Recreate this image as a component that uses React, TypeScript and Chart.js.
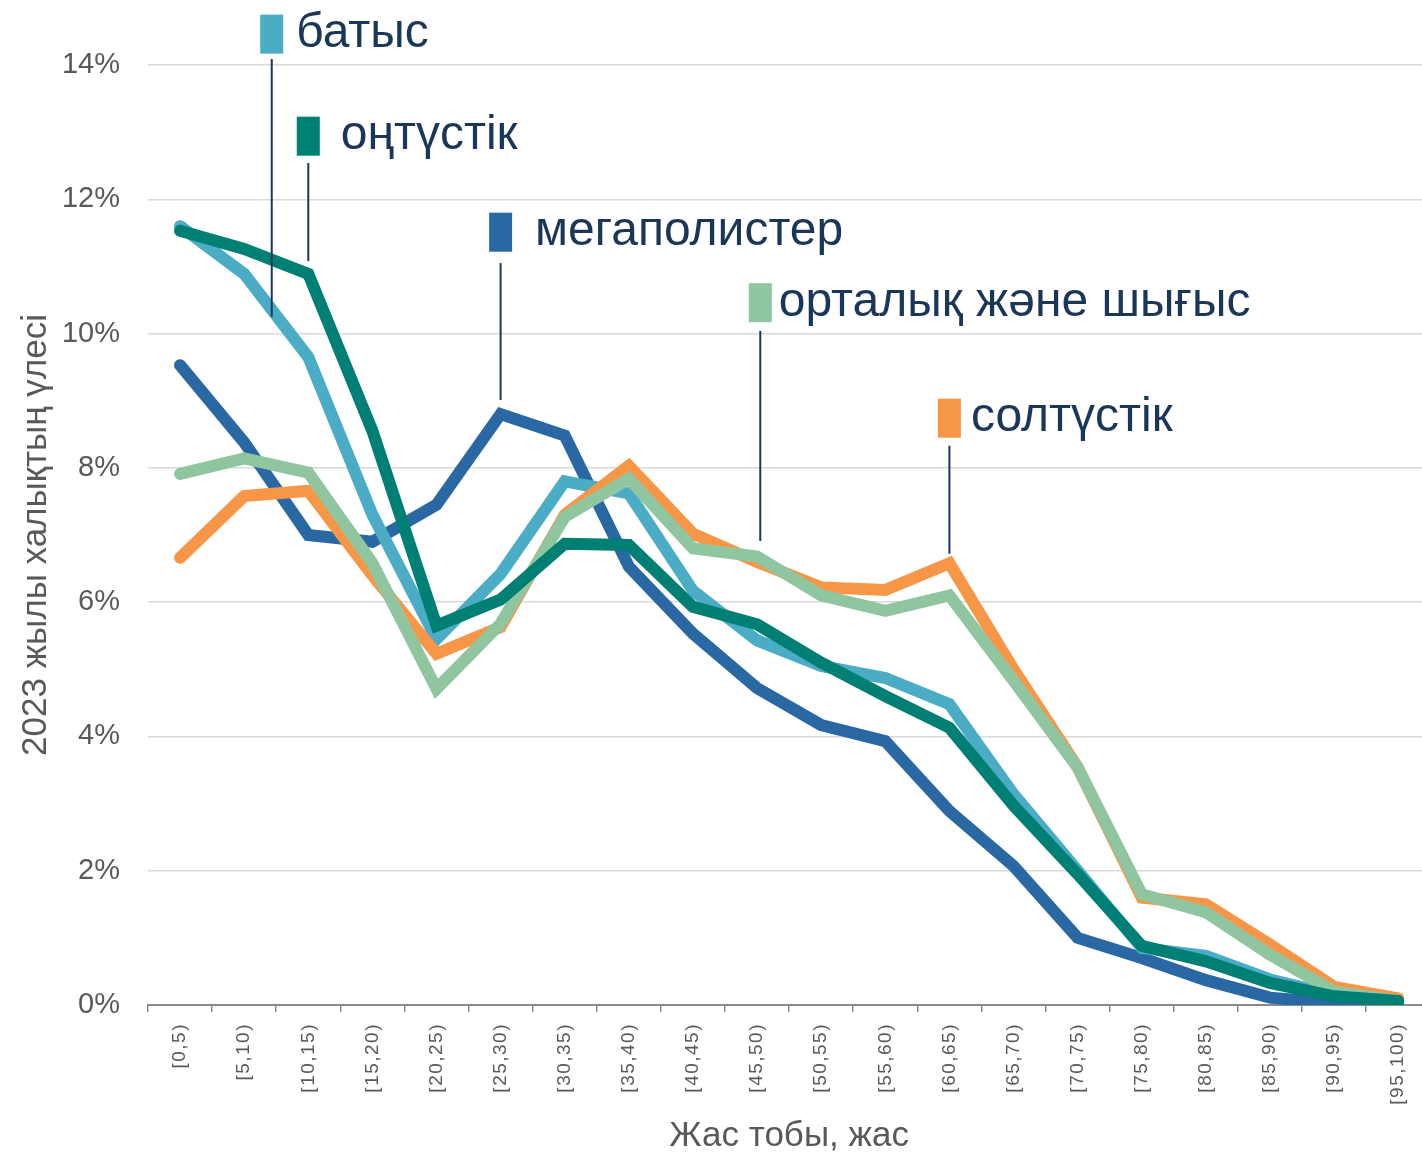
import React, { useEffect, useRef } from 'react';
import { Chart, registerables } from 'chart.js';

Chart.register(...registerables);

const CATEGORIES = ['[0,5)', '[5,10)', '[10,15)', '[15,20)', '[20,25)', '[25,30)', '[30,35)', '[35,40)', '[40,45)', '[45,50)', '[50,55)', '[55,60)', '[60,65)', '[65,70)', '[70,75)', '[75,80)', '[80,85)', '[85,90)', '[90,95)', '[95,100)'];

const SERIES_NAMES = ['батыс', 'оңтүстік', 'мегаполистер', 'орталық және шығыс', 'солтүстік'];

const BATYS = [11.6, 10.89, 9.65, 7.3, 5.45, 6.42, 7.8, 7.62, 6.17, 5.43, 5.05, 4.87, 4.48, 3.14, 2.0, 0.85, 0.73, 0.38, 0.15, 0.05];
const ONTUSTIK = [11.53, 11.26, 10.89, 8.55, 5.65, 6.04, 6.87, 6.85, 5.93, 5.67, 5.1, 4.6, 4.13, 2.97, 1.95, 0.88, 0.65, 0.33, 0.13, 0.06];
const MEGAPOLIS = [9.53, 8.38, 7.0, 6.9, 7.45, 8.8, 8.48, 6.53, 5.53, 4.72, 4.17, 3.93, 2.89, 2.07, 1.0, 0.7, 0.37, 0.11, 0.03, 0.01];
const ORTALYK = [7.91, 8.14, 7.93, 6.58, 4.71, 5.68, 7.27, 7.84, 6.8, 6.68, 6.1, 5.87, 6.1, 4.83, 3.54, 1.65, 1.38, 0.75, 0.2, 0.06];
const SOLTUSTIK = [6.66, 7.58, 7.66, 6.4, 5.23, 5.63, 7.3, 8.03, 7.02, 6.6, 6.22, 6.18, 6.58, 5.0, 3.54, 1.6, 1.5, 0.9, 0.27, 0.1];

const COLORS = {
  batys: '#4bacc6',
  ontustik: '#007f74',
  megapolis: '#2a68a4',
  ortalyk: '#8fc6a0',
  soltustik: '#f79646',
};

const TEXT_DARK = '#1a3658';
const GRAY = '#595959';
const FONT = '"Liberation Sans", Arial, sans-serif';

// annotation layout (category index / value units, converted through the chart scales)
const ANNOTATIONS = [
  { name: SERIES_NAMES[0], color: COLORS.batys, xIdx: 1.43, boxV: 14.46, lineTop: 14.09, lineBottom: 10.25, gap: 13 },
  { name: SERIES_NAMES[1], color: COLORS.ontustik, xIdx: 2, boxV: 12.94, lineTop: 12.54, lineBottom: 11.08, gap: 21 },
  { name: SERIES_NAMES[2], color: COLORS.megapolis, xIdx: 5, boxV: 11.51, lineTop: 11.05, lineBottom: 9.01, gap: 23 },
  { name: SERIES_NAMES[3], color: COLORS.ortalyk, xIdx: 9.05, boxV: 10.46, lineTop: 10.04, lineBottom: 6.91, gap: 7 },
  { name: SERIES_NAMES[4], color: COLORS.soltustik, xIdx: 12, boxV: 8.74, lineTop: 8.33, lineBottom: 6.72, gap: 10 },
];

const annotationPlugin = {
  id: 'seriesLabels',
  afterDraw(chart: any) {
    const ctx = chart.ctx;
    const xs = chart.scales.x;
    const ys = chart.scales.y;
    ctx.save();
    for (const a of ANNOTATIONS) {
      const x = xs.getPixelForValue(a.xIdx);
      const yBox = ys.getPixelForValue(a.boxV);
      const yTop = ys.getPixelForValue(a.lineTop);
      const yBot = ys.getPixelForValue(a.lineBottom);
      ctx.strokeStyle = TEXT_DARK;
      ctx.lineWidth = 2;
      ctx.beginPath();
      ctx.moveTo(x, yTop);
      ctx.lineTo(x, yBot);
      ctx.stroke();
      const w = 23;
      const h = 39;
      ctx.fillStyle = a.color;
      ctx.fillRect(x - w / 2, yBox - h / 2, w, h);
      ctx.fillStyle = TEXT_DARK;
      ctx.font = `48px ${FONT}`;
      ctx.textAlign = 'left';
      ctx.textBaseline = 'alphabetic';
      ctx.fillText(a.name, x + w / 2 + a.gap, yBox + 13);
    }
    ctx.restore();
  },
};

export default function App() {
  const ref = useRef<HTMLCanvasElement>(null);
  useEffect(() => {
    if (!ref.current) return;
    const line = (label: string, data: number[], color: string, order: number) => ({
      label,
      data,
      borderColor: color,
      backgroundColor: color,
      borderWidth: 12,
      pointRadius: 0,
      pointHoverRadius: 0,
      tension: 0,
      fill: false,
      borderCapStyle: 'round' as const,
      borderJoinStyle: 'miter' as const,
      order,
    });
    const chart = new Chart(ref.current, {
      type: 'line',
      data: {
        labels: CATEGORIES,
        datasets: [
          line(SERIES_NAMES[1], ONTUSTIK, COLORS.ontustik, 0),
          line(SERIES_NAMES[3], ORTALYK, COLORS.ortalyk, 1),
          line(SERIES_NAMES[4], SOLTUSTIK, COLORS.soltustik, 2),
          line(SERIES_NAMES[0], BATYS, COLORS.batys, 3),
          line(SERIES_NAMES[2], MEGAPOLIS, COLORS.megapolis, 4),
        ],
      },
      options: {
        responsive: false,
        animation: false,
        devicePixelRatio: 1,
        layout: { padding: { top: 65, left: 0, right: 0, bottom: 0 } },
        plugins: {
          legend: { display: false },
          tooltip: { enabled: false },
        },
        scales: {
          x: {
            offset: true,
            grid: {
              display: true,
              drawOnChartArea: false,
              drawTicks: true,
              tickLength: 7,
              color: '#8a8a8a',
              lineWidth: 1.5,
              offset: true,
            },
            border: { display: true, color: '#8a8a8a', width: 2 },
            ticks: {
              autoSkip: false,
              minRotation: 90,
              maxRotation: 90,
              padding: 11,
              color: GRAY,
              font: { family: FONT, size: 19 },
            },
            title: {
              display: true,
              text: 'Жас тобы, жас',
              color: GRAY,
              font: { family: FONT, size: 35, lineHeight: 1 },
              padding: { top: 0, bottom: 0 },
            },
            afterFit: (scale: any) => {
              scale.height = 149;
              if (!scale.__ls) {
                scale.__ls = true;
                const orig = scale.drawLabels.bind(scale);
                scale.drawLabels = (area: any) => {
                  const c = scale.ctx;
                  c.save();
                  try { (c as any).letterSpacing = '1.5px'; } catch (e) {}
                  orig(area);
                  c.restore();
                };
              }
            },
          },
          y: {
            min: 0,
            max: 14,
            grid: { color: '#d9d9d9', lineWidth: 1.5, drawTicks: false },
            border: { display: false },
            ticks: {
              stepSize: 2,
              padding: 28,
              color: GRAY,
              font: { family: FONT, size: 29 },
              callback: (v: any) => `${v}%`,
            },
            title: {
              display: true,
              text: '2023 жылы халықтың үлесі',
              color: GRAY,
              font: { family: FONT, size: 35, lineHeight: 1 },
              padding: { top: 19, bottom: 0 },
            },
            afterFit: (scale: any) => {
              scale.width = 148;
            },
          },
        },
      },
      plugins: [annotationPlugin],
    });
    return () => chart.destroy();
  }, []);
  return (
    <div style={{ position: 'fixed', left: 0, top: 0, width: 1422, height: 1154, overflow: 'hidden', background: '#fff' }}>
      <canvas ref={ref} width={1432} height={1154} style={{ display: 'block', width: 1432, height: 1154 }} />
    </div>
  );
}
